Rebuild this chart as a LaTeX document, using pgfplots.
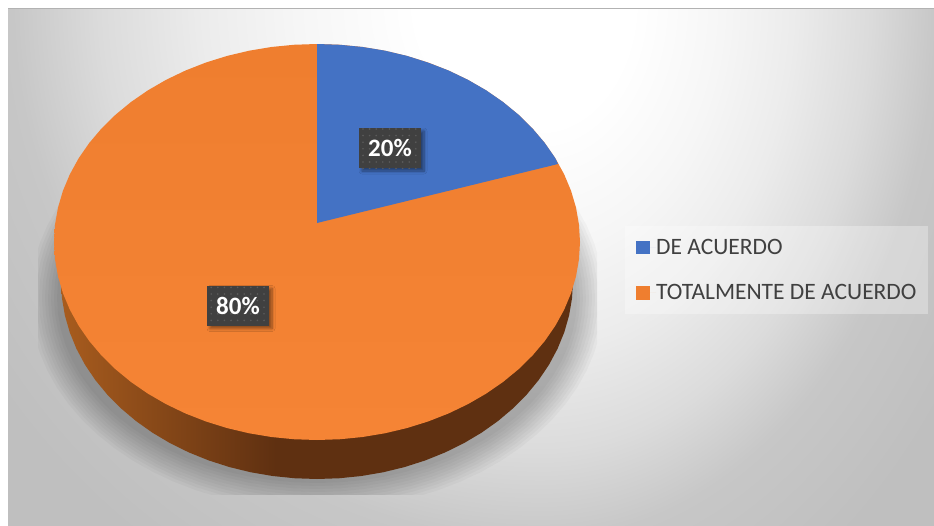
\documentclass[border=0pt]{standalone}
\usepackage{fontspec}
\setmainfont{Carlito}
\usepackage{pgfplots}
\usepackage{pgfplotstable}
\pgfplotsset{compat=1.18}
\usetikzlibrary{patterns.meta,shadows.blur}

% pie values: 20 / 80. Picture is in pixel coordinates of the reference.
% rim of the unit ellipse, every 5 degrees
\pgfplotstableread{
c s
1.00000 0.00000
0.99619 0.08716
0.98481 0.17365
0.96593 0.25882
0.93969 0.34202
0.90631 0.42262
0.86603 0.50000
0.81915 0.57358
0.76604 0.64279
0.70711 0.70711
0.64279 0.76604
0.57358 0.81915
0.50000 0.86603
0.42262 0.90631
0.34202 0.93969
0.25882 0.96593
0.17365 0.98481
0.08716 0.99619
0.00000 1.00000
-0.08716 0.99619
-0.17365 0.98481
-0.25882 0.96593
-0.34202 0.93969
-0.42262 0.90631
-0.50000 0.86603
-0.57358 0.81915
-0.64279 0.76604
-0.70711 0.70711
-0.76604 0.64279
-0.81915 0.57358
-0.86603 0.50000
-0.90631 0.42262
-0.93969 0.34202
-0.96593 0.25882
-0.98481 0.17365
-0.99619 0.08716
-1.00000 0.00000
-0.99619 -0.08716
-0.98481 -0.17365
-0.96593 -0.25882
-0.93969 -0.34202
-0.90631 -0.42262
-0.86603 -0.50000
-0.81915 -0.57358
-0.76604 -0.64279
-0.70711 -0.70711
-0.64279 -0.76604
-0.57358 -0.81915
-0.50000 -0.86603
-0.42262 -0.90631
-0.34202 -0.93969
-0.25882 -0.96593
-0.17365 -0.98481
-0.08716 -0.99619
0.00000 -1.00000
0.08716 -0.99619
0.17365 -0.98481
0.25882 -0.96593
0.34202 -0.93969
0.42262 -0.90631
0.50000 -0.86603
0.57358 -0.81915
0.64279 -0.76604
0.70711 -0.70711
0.76604 -0.64279
0.81915 -0.57358
0.86603 -0.50000
0.90631 -0.42262
0.93969 -0.34202
0.96593 -0.25882
0.98481 -0.17365
0.99619 -0.08716
}\rim

% the 20% slice on the top face
\pgfplotstableread{
x y
317 223
317 44
339.9 44.8
362.7 47.0
385.1 50.7
407 55.9
428.1 62.6
448.5 70.5
467.9 79.8
486.1 90.3
503 102
518.5 114.7
532.4 128.4
544.8 143
555.4 158.3
558 164
}\slice

\definecolor{pieblue}{HTML}{4472C4}
\definecolor{pieorange}{HTML}{EF7E2F}
\definecolor{pieorangelight}{HTML}{F58435}
\definecolor{labelbox}{HTML}{404040}
\definecolor{legendtxt}{HTML}{404040}
\definecolor{sidelight}{HTML}{A85C1E}
\definecolor{sidedark}{HTML}{5F3011}
\definecolor{bga}{gray}{0.965}
\definecolor{bgb}{gray}{0.925}
\definecolor{bgc}{gray}{0.860}
\definecolor{bgd}{gray}{0.780}
\definecolor{bge}{gray}{0.750}

% shading: the path's box maps onto the middle 50bp
\pgfdeclareradialshading{bgshade}{\pgfpointorigin}{
  color(0bp)=(white);
  color(3.5bp)=(white);
  color(6.9bp)=(bga);
  color(9.6bp)=(bgb);
  color(12.5bp)=(bgc);
  color(15bp)=(bgd);
  color(18.75bp)=(bge);
  color(50bp)=(bge)
}
\pgfdeclarehorizontalshading{sideshade}{100bp}{
  color(0bp)=(sidelight);
  color(25bp)=(sidelight);
  color(46bp)=(sidedark);
  color(100bp)=(sidedark)
}

\newcommand{\shadowring}[2]{%
  \addplot[forget plot,draw=none,fill=black,fill opacity=0.027]
    table[x expr=317+#1*\thisrow{c},y expr=298-#2*\thisrow{s}] {\rim} -- cycle;
}

\tikzset{pielabel/.style={
  fill=labelbox,text=white,font=\fontsize{25}{30}\selectfont\bfseries,
  minimum width=62pt,minimum height=40pt,inner sep=0pt,
  postaction={pattern={Dots[radius=0.9pt,distance=6.6pt]},pattern color=white!14!labelbox},
  blur shadow={shadow xshift=3pt,shadow yshift=-3pt,shadow blur radius=3pt,shadow blur steps=6,shadow opacity=45}
}}

\begin{document}
\begin{tikzpicture}
\begin{axis}[
  x=1pt,y=1pt,
  scale only axis,
  xmin=0,xmax=934,ymin=0,ymax=525,
  y dir=reverse,
  hide axis,
  legend style={
    at={(axis cs:625,226)},anchor=north west,
    draw=none,fill=white,fill opacity=0.3,text opacity=1,
    text=legendtxt,font=\fontsize{23.5}{28}\selectfont,
    inner xsep=11pt,inner ysep=11pt,
    row sep=24.5pt,
    nodes={anchor=west,inner xsep=0pt},
  },
  legend cell align=left,
  area legend,
  legend image code/.code={
    \fill[#1,fill opacity=1] (0pt,-6.8pt) rectangle (14pt,6.8pt);
    \path (0pt,0pt) -- (20pt,0pt);
  },
]
  % page and gradient backdrop, two halves since the falloff differs left and right
  \fill[white] (axis cs:0,0) rectangle (axis cs:934,525);
  \begin{scope}
    \clip (axis cs:8,8) rectangle (axis cs:540.5,525);
    \shade[shading=bgshade] (axis cs:-340,-900) rectangle (axis cs:1420,900);
  \end{scope}
  \begin{scope}
    \clip (axis cs:540,8) rectangle (axis cs:934,525);
    \shade[shading=bgshade] (axis cs:-120,-900) rectangle (axis cs:1200,900);
  \end{scope}
  \draw[black!30,line width=1pt] (axis cs:8,8.5) -- (axis cs:934,8.5);

  % soft shadow under the disc, cut off square as in the original
  \begin{scope}
    \clip (axis cs:38,150) rectangle (axis cs:597,494);
    \shadowring{287}{212}
    \shadowring{284}{209}
    \shadowring{281}{206}
    \shadowring{278}{203}
    \shadowring{275}{200}
    \shadowring{272}{197}
    \shadowring{269}{194}
    \shadowring{266}{191}
    \shadowring{263}{188}
    \shadowring{260}{185}
  \end{scope}

  % side wall, then top face
  \addplot[forget plot,draw=none,shade,shading=sideshade]
    table[x expr=317+256*\thisrow{c},y expr=281-198*\thisrow{s}] {\rim} -- cycle;
  \addplot[forget plot,draw=none,shade,top color=pieorange,bottom color=pieorangelight]
    table[x expr=317+263*\thisrow{c},y expr=242-198*\thisrow{s}] {\rim} -- cycle;
  \addplot[draw=none,fill=pieblue] table {\slice} -- cycle;
  \addlegendentry{DE ACUERDO}
  \addplot[draw=none,fill=pieorange] coordinates {(317,223) (317,223)};
  \addlegendentry{TOTALMENTE DE ACUERDO}

  \node[pielabel] at (axis cs:390,148) {20\%};
  \node[pielabel] at (axis cs:238,305.5) {80\%};
\end{axis}
\end{tikzpicture}
\end{document}
